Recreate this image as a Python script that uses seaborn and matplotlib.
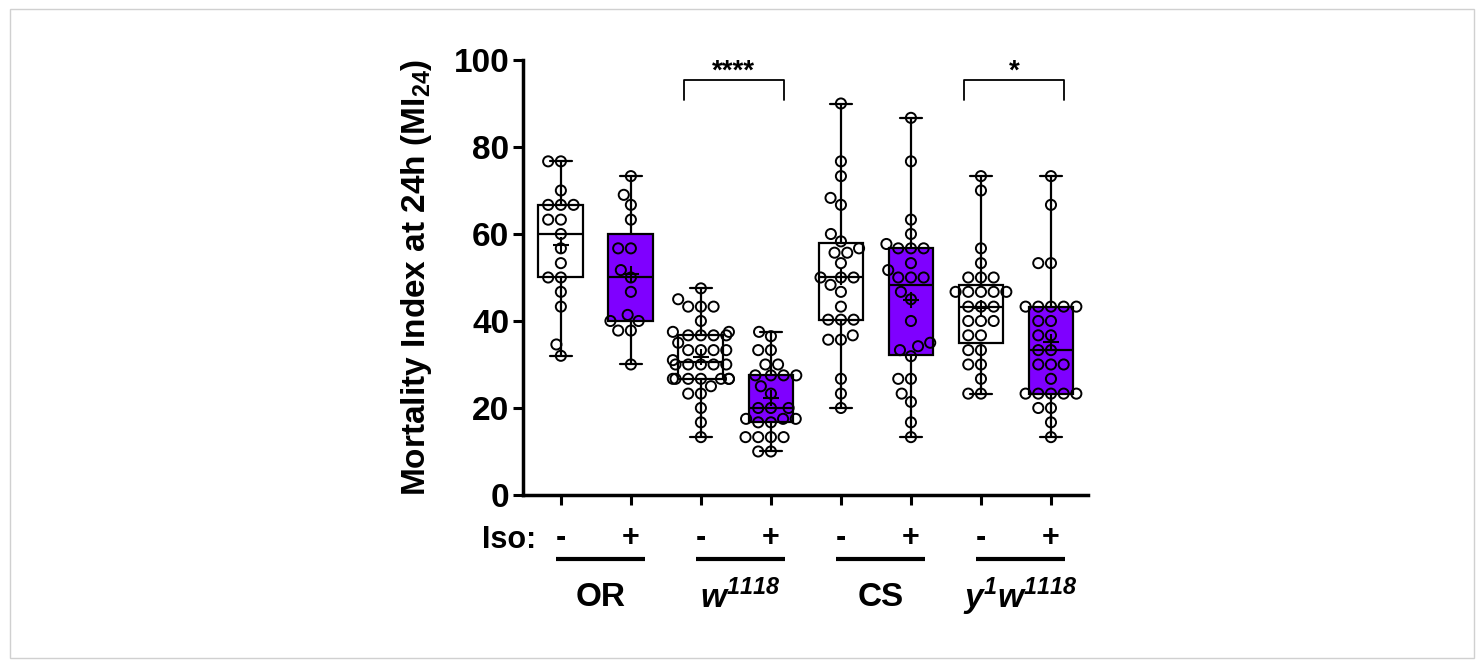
import numpy as np
import pandas as pd
import seaborn as sns
import matplotlib.pyplot as plt
from matplotlib.patches import Rectangle

# ------------------------
# Data (Mortality Index at 24h)
# ------------------------
or_minus = [76.7, 76.7, 70.0, 66.7, 66.7, 66.7, 63.3, 63.3, 60.0, 56.7,
            53.3, 50.0, 50.0, 46.7, 43.3, 34.6, 32.0]
or_plus = [73.3, 69.0, 66.7, 63.3, 56.7, 56.7, 51.7, 50.0, 46.7, 41.4,
           40.0, 40.0, 37.8, 37.8, 30.0]
w1118_minus = [47.5, 45.0, 43.3, 43.3, 43.3, 40.0, 37.5, 37.5, 36.7, 36.7,
               36.7, 36.7, 35.0, 33.3, 33.3, 33.3, 33.3, 31.0, 30.0, 30.0,
               30.0, 30.0, 30.0, 26.7, 26.7, 26.7, 26.7, 26.7, 26.7, 26.7,
               25.0, 23.3, 23.3, 20.0, 16.7, 13.3]
w1118_plus = [37.5, 36.5, 33.3, 33.3, 30.0, 30.0, 27.5, 27.5, 27.5, 27.5,
              25.0, 23.3, 20.0, 20.0, 20.0, 17.5, 17.5, 17.5, 16.7, 16.7,
              13.3, 13.3, 13.3, 13.3, 10.0, 10.0]
cs_minus = [90.0, 76.7, 73.3, 68.3, 66.7, 60.0, 58.3, 56.7, 55.7, 55.7,
            53.3, 50.0, 50.0, 50.0, 48.3, 46.7, 43.3, 40.3, 40.3, 40.3,
            36.7, 35.7, 35.7, 26.7, 23.3, 20.0]
cs_plus = [86.7, 76.7, 63.3, 60.0, 57.7, 56.7, 56.7, 56.7, 53.3, 51.7,
           50.0, 50.0, 50.0, 46.7, 45.0, 40.0, 35.0, 34.2, 33.3, 31.9,
           26.7, 26.7, 23.3, 21.4, 16.7, 13.3]
y1w_minus = [73.3, 70.0, 56.7, 53.3, 50.0, 50.0, 50.0, 46.7, 46.7, 46.7,
             46.7, 46.7, 43.3, 43.3, 43.3, 40.0, 40.0, 40.0, 36.7, 36.7,
             33.3, 33.3, 30.0, 30.0, 26.7, 23.3, 23.3]
y1w_plus = [73.3, 66.7, 53.3, 53.3, 43.3, 43.3, 43.3, 43.3, 43.3, 40.0,
            40.0, 36.7, 36.7, 33.3, 33.3, 30.0, 30.0, 30.0, 26.7, 23.3,
            23.3, 23.3, 23.3, 23.3, 20.0, 20.0, 16.7, 13.3]

groups = ["OR -", "OR +", "w1118 -", "w1118 +", "CS -", "CS +", "y1w1118 -", "y1w1118 +"]
values = [or_minus, or_plus, w1118_minus, w1118_plus, cs_minus, cs_plus, y1w_minus, y1w_plus]
iso_labels = ["-", "+", "-", "+", "-", "+", "-", "+"]
strain_labels = ["OR", r"$\mathsf{w}^{\mathsf{1118}}$", "CS",
                 r"$\mathsf{y}^{\mathsf{1}}\mathsf{w}^{\mathsf{1118}}$"]
box_colors = ["white", "#7F00FF"] * 4
# significance brackets: (left group, right group, stars)
sig_pairs = [(2, 3, "****"), (6, 7, "*")]

df = pd.DataFrame({
    "group": np.repeat(groups, [len(v) for v in values]),
    "MI": np.concatenate(values),
})

# ------------------------
# Style
# ------------------------
sns.set_style("ticks")
plt.rcParams["font.family"] = ["Liberation Sans", "DejaVu Sans"]
plt.rcParams["font.weight"] = "bold"
plt.rcParams["mathtext.fontset"] = "custom"
plt.rcParams["mathtext.rm"] = "Liberation Sans:bold"
plt.rcParams["mathtext.sf"] = "Liberation Sans:italic:bold"
plt.rcParams["mathtext.bf"] = "Liberation Sans:bold"
for key in ["text.color", "axes.labelcolor", "xtick.color", "ytick.color", "axes.edgecolor"]:
    plt.rcParams[key] = "black"

fig = plt.figure(figsize=(14.83, 6.66), dpi=100)
ax = fig.add_axes([0.3527, 0.2568, 0.381, 0.6531])

# boxes: whiskers min to max, mean shown as +
sns.boxplot(data=df, x="group", y="MI", hue="group", order=groups, hue_order=groups,
            palette=box_colors, saturation=1, width=0.64, whis=(0, 100),
            linecolor="black", linewidth=1.6, showmeans=True, legend=False, ax=ax,
            meanprops=dict(marker="+", markeredgecolor="black",
                           markersize=12, markeredgewidth=1.5))

# open circles for each fly vial
sns.swarmplot(data=df, x="group", y="MI", order=groups, color="black",
              edgecolor="black", linewidth=1.4, size=7.3, ax=ax, zorder=3)
for coll in ax.collections:
    coll.set_facecolor("none")

# ------------------------
# Axes
# ------------------------
ax.set_xlim(-0.54, 7.53)
ax.set_ylim(0, 100)
ax.set_yticks(range(0, 101, 20))
ax.tick_params(axis="y", labelsize=24, width=2.2, length=7, pad=3)
ax.tick_params(axis="x", labelsize=22, width=2.2, length=7, pad=13)
ax.set_xticks(range(len(groups)))
ax.set_xticklabels(iso_labels, fontweight="bold")
for lab in ax.get_yticklabels():
    lab.set_fontweight("bold")
ax.set_xlabel("")
ax.set_ylabel(r"Mortality Index at 24h (MI$_{\mathbf{24}}$)", fontsize=24,
              fontweight="bold", labelpad=14)
sns.despine(ax=ax)
for side in ["left", "bottom"]:
    ax.spines[side].set_linewidth(2.5)

# Iso: row label, strain underlines and names
xtr = ax.get_xaxis_transform()
ax.text(-0.74, -0.103, "Iso:", transform=xtr, ha="center", va="center",
        fontsize=22, fontweight="bold")
for i, name in enumerate(strain_labels):
    x0 = 2 * i
    ax.plot([x0 - 0.07, x0 + 1.2], [-0.148, -0.148], transform=xtr,
            color="black", lw=3, clip_on=False, solid_capstyle="butt")
    ax.text(x0 + 0.565, -0.235, name, transform=xtr, ha="center", va="center",
            fontsize=24, fontweight="bold")

# significance brackets
for a, b, stars in sig_pairs:
    xl, xr = a - 0.24, b + 0.18
    ax.plot([xl, xl, xr, xr], [90.8, 95.4, 95.4, 90.8], color="black",
            lw=1.3, clip_on=False)
    ax.text((xl + xr) / 2, 95.8, stars, ha="center", va="baseline",
            fontsize=20, fontweight="bold")

# light frame around the whole figure
fig.patches.append(Rectangle((0.007, 0.012), 0.987, 0.975, transform=fig.transFigure,
                             fill=False, edgecolor="#d0d0d0", lw=1))

fig.savefig("out.png", dpi=100)
